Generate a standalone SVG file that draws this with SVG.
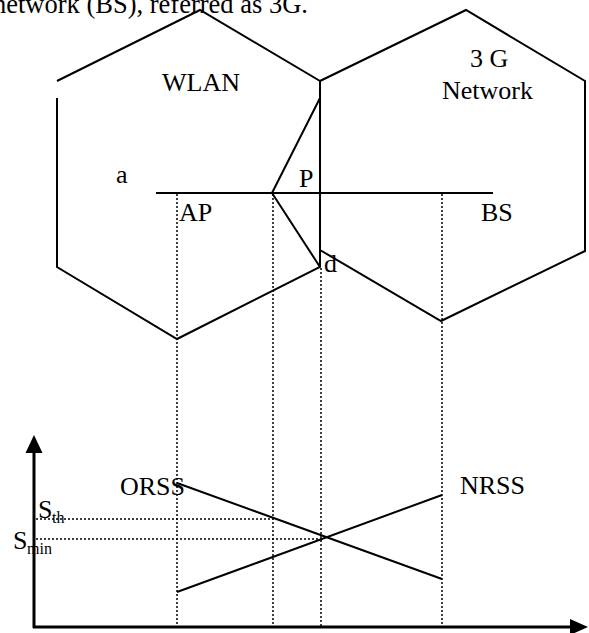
<svg xmlns="http://www.w3.org/2000/svg" width="589" height="633" viewBox="0 0 589 633">
<style>
text{font-family:"Liberation Serif","Times New Roman",serif;fill:#000}
.lbl{font-size:26px}
.sub{font-size:16px}
.ln{stroke:#000;stroke-width:2;fill:none}
.dot{stroke:#000;stroke-width:1.5;stroke-dasharray:2 2;fill:none}
.ax{stroke:#000;stroke-width:3;fill:none}
</style>
<rect width="589" height="633" fill="#fff"/>
<text x="-7" y="13" font-size="26.5">network (BS), referred as 3G.</text>

<g id="wlan">
<polyline class="ln" points="57,81 200,10 320,81 320,267 177,339 57,267 57,98"/>
<text class="lbl" x="162" y="91">WLAN</text>
</g>

<g id="network3g">
<polyline class="ln" points="320,250 320,81 466,10 585,81 585,251 441,321 320,250"/>
<text class="lbl" x="470" y="67">3 G</text>
<text class="lbl" x="442" y="99">Network</text>
</g>

<g id="points">
<text class="lbl" x="116" y="183">a</text>
<text class="lbl" x="179" y="221">AP</text>
<text class="lbl" x="299" y="187">P</text>
<text class="lbl" x="324" y="272">d</text>
<text class="lbl" x="481" y="221">BS</text>
</g>

<g id="connectors">
<line class="ln" x1="156" y1="193" x2="493" y2="193"/>
<polyline class="ln" points="320,98 272,193 320,267"/>
<line class="dot" x1="177" y1="194" x2="177" y2="626"/>
<line class="dot" x1="273" y1="194" x2="273" y2="626"/>
<line class="dot" x1="321" y1="268" x2="321" y2="626"/>
<line class="dot" x1="442" y1="194" x2="442" y2="626"/>
<line class="dot" x1="36" y1="519" x2="273" y2="519"/>
<line class="dot" x1="36" y1="539" x2="321" y2="539"/>
</g>

<g id="graph">
<line class="ax" x1="34" y1="450" x2="34" y2="628"/>
<polygon points="34,435 25.5,453 42.5,453" fill="#000"/>
<line class="ax" x1="33" y1="627" x2="572" y2="627"/>
<polygon points="588,627 570,619 570,635" fill="#000"/>
<line class="ln" x1="177" y1="483" x2="442" y2="579"/>
<line class="ln" x1="177" y1="592" x2="442" y2="495"/>
<text class="lbl" x="120" y="495">ORSS</text>
<text class="lbl" x="460" y="494">NRSS</text>
<text class="lbl" x="38" y="518">S</text>
<text class="sub" x="52" y="523">th</text>
<text class="lbl" x="13" y="549">S</text>
<text class="sub" x="27" y="554">min</text>
</g>
</svg>
